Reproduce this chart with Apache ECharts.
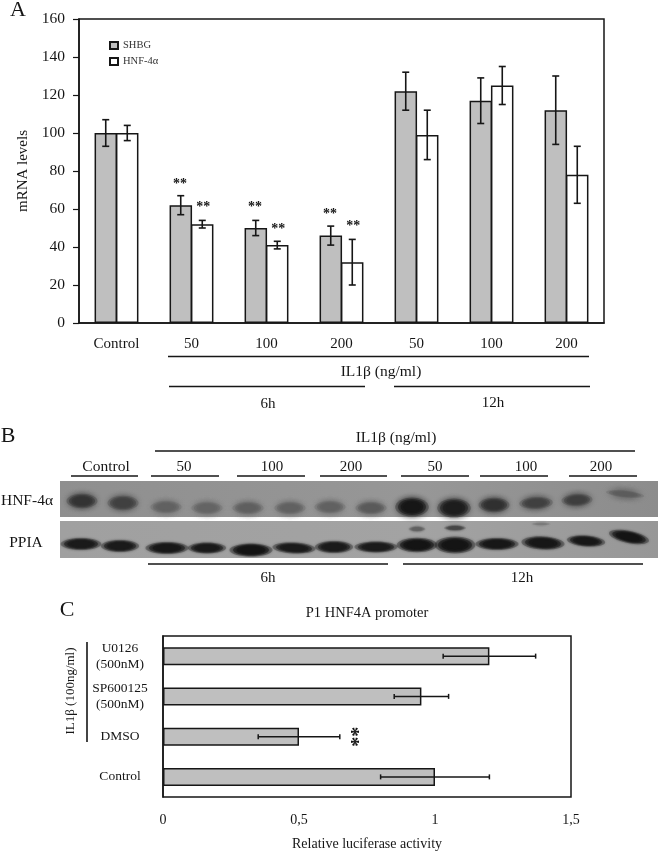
<!DOCTYPE html>
<html>
<head>
<meta charset="utf-8">
<style>html,body{margin:0;padding:0;background:#fff}#c{width:658px;height:852px}</style>
<script src="https://cdn.jsdelivr.net/npm/echarts@6/dist/echarts.min.js"></script>
</head>
<body>
<div id="c"></div>
<script>
// Panel A
const doseLabels = ['Control', '50', '100', '200', '50', '100', '200'];
const shbg = [100, 62, 50, 46, 122, 117, 112];
const hnf4a = [100, 52, 41, 32, 99, 125, 78];
const shbgErr = [7, 5, 4, 5, 10, 12, 18];
const hnf4aErr = [4, 2, 2, 12, 13, 10, 15];
const starsShbg = [null, 73, 61, 57, null, null, null];
const starsHnf = [null, 61, 49.5, 51, null, null, null];
// Panel B (blot bands: position along the gel, migration, darkness, half width, half height, tilt)
const hnfLane = [82, 123, 166, 207, 248, 290, 330, 371, 412, 454, 494, 536, 577, 625];
const hnfMig = [20, 22, 26, 27, 27, 27, 26, 27, 26, 27, 24, 22, 19, 13];
const hnfDark = [0.72, 0.6, 0.3, 0.27, 0.32, 0.3, 0.3, 0.36, 0.98, 0.92, 0.75, 0.6, 0.62, 0.35];
const hnfHalfW = [13, 13, 13, 13, 13, 13, 13, 13, 14, 14, 13, 14, 13, 16];
const hnfHalfH = [6, 6, 5, 5, 5, 5, 5, 5, 8, 8, 6, 5, 5, 3];
const hnfTilt = [0, 0, 0, 0, 0, 0, 0, 0, 0, 0, 0, 0.05, 0.05, -0.1];
const ppiaLane = [81, 120, 167, 207, 251, 294, 334, 376, 417, 455, 497, 543, 586, 629];
const ppiaMig = [63, 65, 67, 67, 69, 67, 66, 66, 64, 64, 63, 62, 60, 56];
const ppiaDark = [0.95, 0.95, 0.97, 0.95, 1, 0.95, 0.95, 0.95, 1, 1, 0.97, 0.97, 0.97, 1];
const ppiaHalfW = [17, 16, 18, 16, 18, 18, 16, 18, 17, 17, 18, 18, 16, 17];
const ppiaHalfH = [5, 5, 5, 4.5, 5.5, 4.5, 5, 4.5, 6, 7, 5, 5.5, 4.5, 5];
const ppiaTilt = [0, 0, 0, 0, 0, -0.05, 0, 0, 0, 0, 0, -0.05, -0.08, -0.2];
const faintLane = [417, 455, 541];
const faintMig = [48, 47, 43];
const faintDark = [0.3, 0.55, 0.06];
const faintHalfW = [7, 9, 8];
const faintHalfH = [2, 2, 1];
// Panel C
const treatments = ['U0126\n(500nM)', 'SP600125\n(500nM)', 'DMSO', 'Control'];
const luciferase = [1.2, 0.95, 0.5, 1.0];
const luciferaseErr = [0.17, 0.1, 0.15, 0.2];
const starsLuc = [null, null, 0.725, null];

const FONT = '"Liberation Serif","Times New Roman",serif';
const INK = '#161616';
const BAR_GRAY = '#bfbfbf';

function errA(values, errs, side) {
  return {
    type: 'custom', xAxisIndex: 0, yAxisIndex: 0, z: 5, silent: true,
    data: values.map((v, i) => [i, v, errs[i]]),
    encode: { x: 0, y: [1] },
    renderItem(p, api) {
      const band = api.size([1, 0])[0];
      const dx = side * band * 0.1435;
      const top = api.coord([api.value(0), api.value(1) + api.value(2)]);
      const bot = api.coord([api.value(0), api.value(1) - api.value(2)]);
      const x = top[0] + dx, c = 3.5;
      const s = { stroke: INK, lineWidth: 1.6 };
      return { type: 'group', children: [
        { type: 'line', shape: { x1: x, y1: top[1], x2: x, y2: bot[1] }, style: s },
        { type: 'line', shape: { x1: x - c, y1: top[1], x2: x + c, y2: top[1] }, style: s },
        { type: 'line', shape: { x1: x - c, y1: bot[1], x2: x + c, y2: bot[1] }, style: s }
      ] };
    }
  };
}
function starsA(values, side) {
  return {
    type: 'custom', xAxisIndex: 0, yAxisIndex: 0, z: 6, silent: true,
    data: values.map((v, i) => [i, v]).filter(d => d[1] != null),
    encode: { x: 0, y: 1 },
    renderItem(p, api) {
      const band = api.size([1, 0])[0];
      const pt = api.coord([api.value(0), api.value(1)]);
      return { type: 'text', x: pt[0] + side * band * 0.155, y: pt[1],
        style: { text: '**', fill: INK, font: 'bold 14px ' + FONT, align: 'center', verticalAlign: 'middle' } };
    }
  };
}
function blot(lane, mig, dark, hw, hh, tilt, blur) {
  return {
    type: 'custom', xAxisIndex: 1, yAxisIndex: 1, z: 3, silent: true, clip: true,
    data: lane.map((x, i) => [x, mig[i], dark[i], hw[i], hh[i], tilt ? tilt[i] : 0]),
    encode: { x: 0, y: 1 },
    renderItem(p, api) {
      const pt = api.coord([api.value(0), api.value(1)]);
      const d = api.value(2);
      const g = Math.round(130 - 110 * d);
      const col = `rgb(${g},${g},${g})`;
      const rx = api.value(3), ry = api.value(4);
      const layer = (k, o) => ({ type: 'ellipse',
        shape: { cx: 0, cy: 0, rx: rx * k, ry: ry * k },
        style: { fill: col, opacity: o, shadowBlur: blur, shadowColor: col } });
      return { type: 'group', x: pt[0], y: pt[1], rotation: api.value(5),
        children: [layer(1.2, 0.3), layer(1, 0.5), layer(0.8, 0.7), layer(0.6, 1)] };
    }
  };
}
function txt(x, y, text, size, extra) {
  return Object.assign({ type: 'text', x, y, z: 20,
    style: { text, fill: INK, font: size + 'px ' + FONT, align: 'center', verticalAlign: 'middle' } }, extra || {});
}
function rule(x1, x2, y, w) {
  return { type: 'line', z: 20, shape: { x1, y1: y, x2, y2: y }, style: { stroke: INK, lineWidth: w || 1.4 } };
}

const option = {
  animation: false,
  backgroundColor: '#fff',
  textStyle: { fontFamily: FONT },
  legend: {
    left: 104, top: 35, orient: 'vertical', itemWidth: 8, itemHeight: 7, itemGap: 5, icon: 'rect',
    selectedMode: false, data: ['SHBG', 'HNF-4α'],
    textStyle: { fontFamily: FONT, fontSize: 10.5, color: '#333' }
  },
  grid: [
    { left: 79, top: 19, width: 525, height: 304, show: true, borderColor: INK, borderWidth: 1.5, containLabel: false },
    { left: 60, top: 481, width: 598, height: 77, show: false },
    { left: 163, top: 636, width: 408, height: 162, show: true, borderColor: INK, borderWidth: 1.5 }
  ],
  xAxis: [
    { gridIndex: 0, type: 'category', data: doseLabels,
      axisLine: { lineStyle: { color: INK, width: 1.5 } }, axisTick: { show: false },
      axisLabel: { color: INK, fontFamily: FONT, fontSize: 15, margin: 14, interval: 0 } },
    { gridIndex: 1, type: 'value', min: 60, max: 658, show: false },
    { gridIndex: 2, type: 'value', min: 0, max: 1.5, interval: 0.5,
      axisLine: { lineStyle: { color: INK, width: 1.5 } },
      axisTick: { length: 5, lineStyle: { color: INK, width: 1.2 } }, splitLine: { show: false },
      axisLabel: { color: INK, fontFamily: FONT, fontSize: 14, margin: 16,
        formatter: v => String(v).replace('.', ',') },
      name: 'Relative luciferase activity', nameLocation: 'middle', nameGap: 40,
      nameTextStyle: { color: INK, fontFamily: FONT, fontSize: 14 } }
  ],
  yAxis: [
    { gridIndex: 0, type: 'value', min: 0, max: 160, interval: 20,
      axisLine: { show: true, lineStyle: { color: INK, width: 1.5 } },
      axisTick: { show: true, length: 6, lineStyle: { color: INK, width: 1.2 } }, splitLine: { show: false },
      axisLabel: { color: INK, fontFamily: FONT, fontSize: 15.5, margin: 14 },
      name: 'mRNA levels', nameLocation: 'middle', nameGap: 46, nameRotate: 90,
      nameTextStyle: { color: INK, fontFamily: FONT, fontSize: 15 } },
    { gridIndex: 1, type: 'value', min: 0, max: 77, inverse: true, show: false },
    { gridIndex: 2, type: 'category', data: treatments, inverse: true,
      axisLine: { show: true, lineStyle: { color: INK, width: 1.5 } }, axisTick: { show: false },
      axisLabel: { color: INK, fontFamily: FONT, fontSize: 13.5, margin: 43, align: 'center', lineHeight: 16, interval: 0, padding: [0, 0, 3, 0] } }
  ],
  series: [
    { name: 'SHBG', type: 'bar', xAxisIndex: 0, yAxisIndex: 0, data: shbg, barWidth: 22.5, barGap: '-5%',
      itemStyle: { color: BAR_GRAY, borderColor: INK, borderWidth: 1.5 } },
    { name: 'HNF-4α', type: 'bar', xAxisIndex: 0, yAxisIndex: 0, data: hnf4a, barWidth: 22.5, barGap: '-5%',
      itemStyle: { color: '#fff', borderColor: INK, borderWidth: 1.5 } },
    errA(shbg, shbgErr, -1),
    errA(hnf4a, hnf4aErr, 1),
    starsA(starsShbg, -1),
    starsA(starsHnf, 1),
    blot(hnfLane, hnfMig, hnfDark, hnfHalfW, hnfHalfH, hnfTilt, 7),
    blot(ppiaLane, ppiaMig, ppiaDark, ppiaHalfW, ppiaHalfH, ppiaTilt, 3),
    blot(faintLane, faintMig, faintDark, faintHalfW, faintHalfH, null, 3),
    { type: 'bar', xAxisIndex: 2, yAxisIndex: 2, data: luciferase, barWidth: 18,
      itemStyle: { color: BAR_GRAY, borderColor: INK, borderWidth: 1.5 } },
    { type: 'custom', xAxisIndex: 2, yAxisIndex: 2, z: 5, silent: true,
      data: luciferase.map((v, i) => [v, i, luciferaseErr[i]]),
      encode: { x: 0, y: 1 },
      renderItem(p, api) {
        const a = api.coord([api.value(0) - api.value(2), api.value(1)]);
        const b = api.coord([api.value(0) + api.value(2), api.value(1)]);
        const s = { stroke: INK, lineWidth: 1.5 }, c = 2.5;
        return { type: 'group', children: [
          { type: 'line', shape: { x1: a[0], y1: a[1], x2: b[0], y2: b[1] }, style: s },
          { type: 'line', shape: { x1: a[0], y1: a[1] - c, x2: a[0], y2: a[1] + c }, style: s },
          { type: 'line', shape: { x1: b[0], y1: b[1] - c, x2: b[0], y2: b[1] + c }, style: s }
        ] };
      } },
    { type: 'custom', xAxisIndex: 2, yAxisIndex: 2, z: 6, silent: true,
      data: starsLuc.map((v, i) => [v, i]).filter(d => d[0] != null),
      encode: { x: 0, y: 1 },
      renderItem(p, api) {
        const pt = api.coord([api.value(0), api.value(1)]);
        return { type: 'text', x: pt[0], y: pt[1], rotation: Math.PI / 2,
          style: { text: '**', fill: INK, font: 'bold 20px ' + FONT, align: 'center', verticalAlign: 'middle' } };
      } }
  ],
  graphic: [
    // blot backgrounds
    { type: 'rect', z: 1, shape: { x: 60, y: 481, width: 598, height: 36 },
      style: { fill: { type: 'linear', x: 0, y: 0, x2: 1, y2: 0, colorStops: [
        { offset: 0, color: '#8f8f8f' }, { offset: 0.6, color: '#979797' }, { offset: 1, color: '#8c8c8c' }] } } },
    { type: 'rect', z: 1, shape: { x: 60, y: 521, width: 598, height: 37 },
      style: { fill: { type: 'linear', x: 0, y: 0, x2: 1, y2: 0, colorStops: [
        { offset: 0, color: '#a0a0a0' }, { offset: 0.6, color: '#a3a3a3' }, { offset: 1, color: '#979797' }] } } },
    // panel letters
    txt(18, 10, 'A', 22), txt(8, 436, 'B', 22), txt(67, 610, 'C', 22),
    // panel A annotations
    rule(168, 589, 356.5), txt(381, 372, 'IL1β (ng/ml)', 15.5),
    rule(169, 365, 386.5), rule(394, 590, 386.5),
    txt(268, 404, '6h', 15), txt(493, 403, '12h', 15),
    // panel B annotations
    txt(396, 438, 'IL1β (ng/ml)', 15.5), rule(155, 635, 451),
    txt(106, 467, 'Control', 15.5), rule(71, 138, 476),
    txt(184, 467, '50', 15), rule(151, 219, 476),
    txt(272, 467, '100', 15), rule(237, 305, 476),
    txt(351, 467, '200', 15), rule(320, 387, 476),
    txt(435, 467, '50', 15), rule(401, 469, 476),
    txt(526, 467, '100', 15), rule(480, 548, 476),
    txt(601, 467, '200', 15), rule(569, 637, 476),
    txt(27, 501, 'HNF-4α', 15.5), txt(26, 543, 'PPIA', 15.5),
    rule(148, 388, 564), rule(403, 643, 564),
    txt(268, 578, '6h', 15), txt(522, 578, '12h', 15),
    // panel C annotations
    txt(367, 613, 'P1 HNF4A promoter', 14.5),
    txt(71, 691, 'IL1β (100ng/ml)', 13, { rotation: Math.PI / 2 }),
    { type: 'line', z: 20, shape: { x1: 87, y1: 642, x2: 87, y2: 742 }, style: { stroke: INK, lineWidth: 1.6 } }
  ]
};
const chart = echarts.init(document.getElementById('c'), null, { renderer: 'canvas' });
chart.setOption(option);
</script>
</body>
</html>
